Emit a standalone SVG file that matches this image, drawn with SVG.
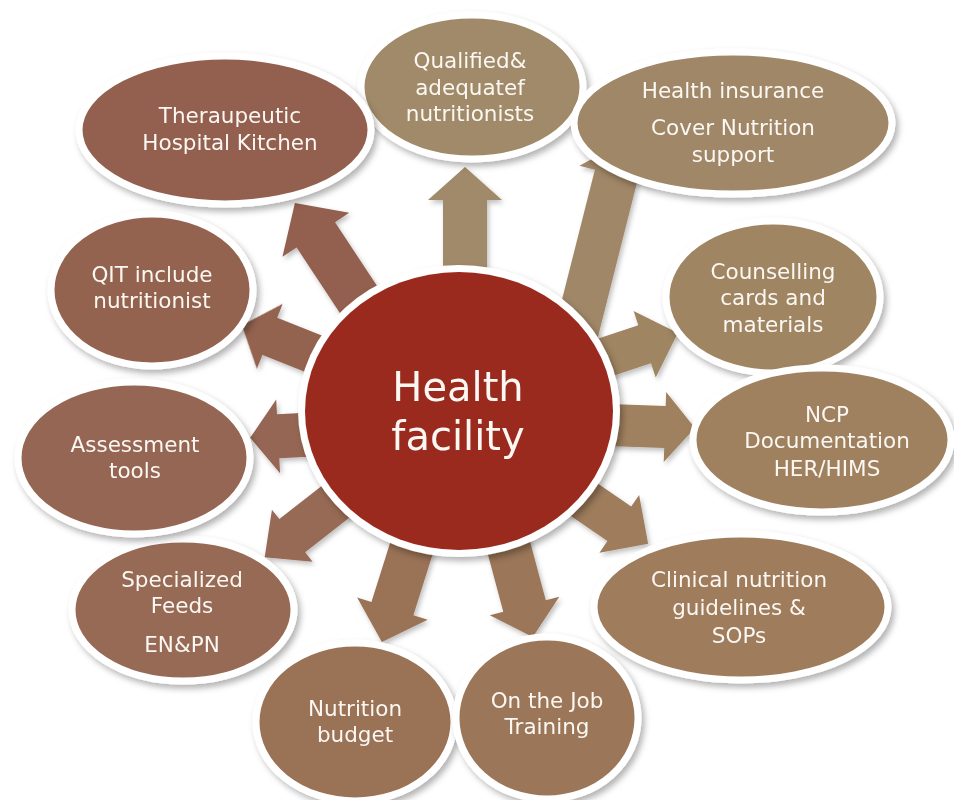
<svg xmlns="http://www.w3.org/2000/svg" width="954" height="800" viewBox="0 0 954 800">
  <defs>
    <filter id="shadow" x="-20%" y="-20%" width="140%" height="140%">
      <feDropShadow dx="3" dy="4" stdDeviation="3" flood-color="#000" flood-opacity="0.3"/>
    </filter>
    <filter id="arrowShadow" x="-20%" y="-20%" width="140%" height="140%">
      <feDropShadow dx="2" dy="3" stdDeviation="2.5" flood-color="#000" flood-opacity="0.25"/>
    </filter>
    <style>
      .node ellipse { stroke: #ffffff; stroke-width: 7; filter: url(#shadow); }
      .label { font-family: "DejaVu Sans", "Liberation Sans", sans-serif; font-size: 21.5px; fill: #fbf7f2; text-anchor: middle; }
      .hub { font-family: "DejaVu Sans", "Liberation Sans", sans-serif; font-size: 40px; fill: #fbf7f2; text-anchor: middle; }
      .c1 { fill: #935f4f; } .c2 { fill: #a08a69; } .c3 { fill: #a08767; }
      .c4 { fill: #a08562; } .c5 { fill: #a0815f; } .c6 { fill: #9e7c5b; }
      .c7 { fill: #9b7658; } .c8 { fill: #9a7256; } .c9 { fill: #976a54; }
      .c10 { fill: #956652; } .c11 { fill: #946350; }
    </style>
  </defs>

  <rect width="954" height="800" fill="#ffffff"/>

  <!-- block arrows radiating from the hub -->
  <g id="connectors" filter="url(#arrowShadow)">
    <polygon class="c1" transform="translate(399.5,361.7) rotate(236.6)" points="0,-23 152,-23 152,-40 190,0 152,40 152,23 0,23"/>
    <polygon class="c2" transform="translate(465,330) rotate(-90)" points="0,-22 130,-22 130,-37 163,0 130,37 130,22 0,22"/>
    <polygon class="c3" transform="translate(575,338) rotate(-75.8)" points="0,-22 168,-22 168,-38 203,0 168,38 168,22 0,22"/>
    <polygon class="c4" transform="translate(564,371) rotate(-18.4)" points="0,-20 85,-20 85,-35 120,0 85,35 85,20 0,20"/>
    <polygon class="c5" transform="translate(580,424) rotate(2)" points="0,-21 85,-21 85,-35 115,0 85,35 85,21 0,21"/>
    <polygon class="c6" transform="translate(541,470) rotate(34.5)" points="0,-21 95,-21 95,-35 130,0 95,35 95,21 0,21"/>
    <polygon class="c7" transform="translate(494,492) rotate(75)" points="0,-22 118,-22 118,-36 150,0 118,36 118,22 0,22"/>
    <polygon class="c8" transform="translate(427,499) rotate(107.5)" points="0,-22 115,-22 115,-37 150,0 115,37 115,22 0,22"/>
    <polygon class="c9" transform="translate(375,471) rotate(142)" points="0,-21 105,-21 105,-33 140,0 105,33 105,21 0,21"/>
    <polygon class="c10" transform="translate(380,431) rotate(177)" points="0,-22 102,-22 102,-37 130,0 102,37 102,22 0,22"/>
    <polygon class="c11" transform="translate(372,377) rotate(201.7)" points="0,-20 110,-20 110,-35 140,0 110,35 110,20 0,20"/>
  </g>

  <!-- central hub -->
  <g id="hub">
    <ellipse cx="459" cy="411" rx="161" ry="146" fill="#ffffff" filter="url(#shadow)"/>
    <ellipse cx="459" cy="411" rx="154" ry="139" fill="#9a2a1e"/>
    <text class="hub" x="458" y="401">Health</text>
    <text class="hub" x="458" y="450">facility</text>
  </g>

  <g id="n2" class="node">
    <ellipse class="c2" cx="472" cy="87" rx="111" ry="72"/>
    <text class="label" x="470" y="68">Qualified&amp;</text>
    <text class="label" x="470" y="95">adequatef</text>
    <text class="label" x="470" y="121">nutritionists</text>
  </g>

  <g id="n1" class="node">
    <ellipse class="c1" cx="225" cy="130" rx="146" ry="74"/>
    <text class="label" x="230" y="123">Theraupeutic</text>
    <text class="label" x="230" y="150">Hospital Kitchen</text>
  </g>

  <g id="n3" class="node">
    <ellipse class="c3" cx="733" cy="123" rx="159" ry="71"/>
    <text class="label" x="733" y="98">Health insurance</text>
    <text class="label" x="733" y="135">Cover Nutrition</text>
    <text class="label" x="733" y="162">support</text>
  </g>

  <g id="n4" class="node">
    <ellipse class="c4" cx="773" cy="297" rx="107" ry="76"/>
    <text class="label" x="773" y="279">Counselling</text>
    <text class="label" x="773" y="305">cards and</text>
    <text class="label" x="773" y="332">materials</text>
  </g>

  <g id="n5" class="node">
    <ellipse class="c5" cx="822" cy="440" rx="129" ry="72"/>
    <text class="label" x="827" y="422">NCP</text>
    <text class="label" x="827" y="448">Documentation</text>
    <text class="label" x="827" y="476">HER/HIMS</text>
  </g>

  <g id="n6" class="node">
    <ellipse class="c6" cx="741" cy="607" rx="147" ry="73"/>
    <text class="label" x="739" y="587">Clinical nutrition</text>
    <text class="label" x="739" y="615">guidelines &amp;</text>
    <text class="label" x="739" y="643">SOPs</text>
  </g>

  <g id="n8" class="node">
    <ellipse class="c8" cx="355" cy="722" rx="99" ry="79"/>
    <text class="label" x="355" y="716">Nutrition</text>
    <text class="label" x="355" y="742">budget</text>
  </g>

  <g id="n7" class="node">
    <ellipse class="c7" cx="547" cy="718" rx="91" ry="81"/>
    <text class="label" x="547" y="708">On the Job</text>
    <text class="label" x="547" y="734">Training</text>
  </g>

  <g id="n9" class="node">
    <ellipse class="c9" cx="183" cy="610" rx="111" ry="71"/>
    <text class="label" x="182" y="587">Specialized</text>
    <text class="label" x="182" y="613">Feeds</text>
    <text class="label" x="182" y="652">EN&amp;PN</text>
  </g>

  <g id="n10" class="node">
    <ellipse class="c10" cx="134" cy="458" rx="116" ry="76"/>
    <text class="label" x="135" y="452">Assessment</text>
    <text class="label" x="135" y="478">tools</text>
  </g>

  <g id="n11" class="node">
    <ellipse class="c11" cx="152" cy="290" rx="101" ry="76"/>
    <text class="label" x="152" y="282">QIT include</text>
    <text class="label" x="152" y="308">nutritionist</text>
  </g>
</svg>
